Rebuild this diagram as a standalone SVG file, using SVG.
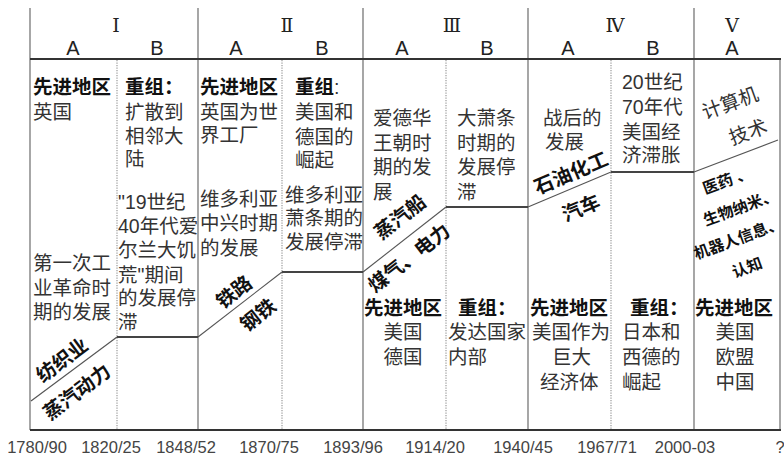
<svg xmlns="http://www.w3.org/2000/svg" width="784" height="456" viewBox="0 0 784 456">
<style>
.t{font-family:"Liberation Sans","Noto Sans CJK SC",sans-serif;font-size:19.5px;fill:#333}
.b{font-family:"Liberation Sans","Noto Sans CJK SC",sans-serif;font-size:19.5px;fill:#111;font-weight:bold}
.s{font-family:"Liberation Sans","Noto Sans CJK SC",sans-serif;font-size:15.5px;fill:#111;font-weight:bold}
.ab{font-family:"Liberation Sans",Arial,sans-serif;font-size:20px;fill:#222;text-anchor:middle}
.rn{font-family:"DejaVu Serif","Liberation Serif",serif;font-size:19px;fill:#222;text-anchor:middle}
.yr{font-family:"Liberation Sans",Arial,sans-serif;font-size:16.5px;fill:#444;text-anchor:middle}
.m{text-anchor:middle}
.major{stroke:#777;stroke-width:1.3;fill:none}
.minor{stroke:#999;stroke-width:1.2;stroke-dasharray:1.2 1.3;fill:none}
.axis{stroke:#333;stroke-width:2.2;fill:none}
.step{stroke:#444;stroke-width:1.8;fill:none}
.diag{stroke:#555;stroke-width:1.1;fill:none}
</style>

<g id="connectors">
  <line class="major" x1="30" y1="8" x2="30" y2="430"/>
  <line class="major" x1="198" y1="8" x2="198" y2="430"/>
  <line class="major" x1="363" y1="8" x2="363" y2="430"/>
  <line class="major" x1="528" y1="8" x2="528" y2="430"/>
  <line class="major" x1="694" y1="8" x2="694" y2="430"/>
  <line class="major" x1="780" y1="59" x2="780" y2="430"/>
  <line class="minor" x1="117" y1="60" x2="117" y2="430"/>
  <line class="minor" x1="282" y1="60" x2="282" y2="430"/>
  <line class="minor" x1="446" y1="60" x2="446" y2="430"/>
  <line class="minor" x1="611" y1="60" x2="611" y2="430"/>
  <line class="axis" x1="30" y1="59" x2="781" y2="59"/>
  <line class="axis" x1="30" y1="430" x2="781" y2="430"/>
  <line class="diag" x1="31" y1="401" x2="117" y2="337"/>
  <line class="step" x1="117" y1="337" x2="198" y2="337"/>
  <line class="diag" x1="198" y1="337" x2="282" y2="272"/>
  <line class="step" x1="282" y1="272" x2="363" y2="272"/>
  <line class="diag" x1="363" y1="272" x2="446" y2="207"/>
  <line class="step" x1="446" y1="207" x2="528" y2="207"/>
  <line class="diag" x1="528" y1="207" x2="611" y2="172"/>
  <line class="step" x1="611" y1="172" x2="694" y2="172"/>
  <line class="diag" x1="694" y1="172" x2="778" y2="140"/>
</g>

<g id="header">
  <text class="rn" x="116" y="32">Ⅰ</text>
  <text class="rn" x="287" y="32">Ⅱ</text>
  <text class="rn" x="452" y="32">Ⅲ</text>
  <text class="rn" x="615" y="32">Ⅳ</text>
  <text class="rn" x="732" y="32">Ⅴ</text>
  <text class="ab" x="73" y="55">A</text>
  <text class="ab" x="157" y="55">B</text>
  <text class="ab" x="236" y="55">A</text>
  <text class="ab" x="322" y="55">B</text>
  <text class="ab" x="402" y="55">A</text>
  <text class="ab" x="487" y="55">B</text>
  <text class="ab" x="568" y="55">A</text>
  <text class="ab" x="653" y="55">B</text>
  <text class="ab" x="732" y="55">A</text>
</g>

<g id="years">
  <text class="yr" x="37" y="453">1780/90</text>
  <text class="yr" x="111" y="453">1820/25</text>
  <text class="yr" x="186" y="453">1848/52</text>
  <text class="yr" x="269" y="453">1870/75</text>
  <text class="yr" x="353" y="453">1893/96</text>
  <text class="yr" x="435" y="453">1914/20</text>
  <text class="yr" x="523" y="453">1940/45</text>
  <text class="yr" x="607" y="453">1967/71</text>
  <text class="yr" x="685" y="453">2000-03</text>
  <text class="yr" x="780" y="453">?</text>
</g>

<g id="p1a">
  <text x="33" y="94"><tspan class="b">先进地区</tspan><tspan class="t" x="33" dy="25">英国</tspan></text>
  <text class="t" x="33" y="270">第一次工<tspan x="33" dy="25">业革命时</tspan><tspan x="33" dy="24">期的发展</tspan></text>
  <text class="b m" transform="translate(62,360) rotate(-37)" y="7">纺织业</text>
  <text class="b m" transform="translate(77,392) rotate(-37)" y="7">蒸汽动力</text>
</g>

<g id="p1b">
  <text x="125" y="94"><tspan class="b">重组：</tspan><tspan class="t" x="125" dy="25">扩散到</tspan><tspan class="t" x="125" dy="24">相邻大</tspan><tspan class="t" x="125" dy="23">陆</tspan></text>
  <text class="t" x="118" y="209">"19世纪<tspan x="118" dy="24">40年代爱</tspan><tspan x="118" dy="24">尔兰大饥</tspan><tspan x="118" dy="25">荒"期间</tspan><tspan x="118" dy="23">的发展停</tspan><tspan x="118" dy="24">滞</tspan></text>
</g>

<g id="p2a">
  <text x="200" y="94"><tspan class="b">先进地区</tspan><tspan class="t" x="200" dy="25">英国为世</tspan><tspan class="t" x="200" dy="23">界工厂</tspan></text>
  <text class="t" x="200" y="206">维多利亚<tspan x="200" dy="24">中兴时期</tspan><tspan x="200" dy="25">的发展</tspan></text>
  <text class="b m" transform="translate(234,292) rotate(-38)" y="7">铁路</text>
  <text class="b m" transform="translate(258,315) rotate(-38)" y="7">钢铁</text>
</g>

<g id="p2b">
  <text x="295" y="94"><tspan class="b">重组</tspan><tspan class="t">:</tspan><tspan class="t" x="295" dy="25">美国和</tspan><tspan class="t" x="295" dy="25">德国的</tspan><tspan class="t" x="295" dy="23">崛起</tspan></text>
  <text class="t" x="285" y="202">维多利亚<tspan x="285" dy="23">萧条期的</tspan><tspan x="285" dy="24">发展停滞</tspan></text>
</g>

<g id="p3a">
  <text class="t" x="373" y="125">爱德华<tspan x="373" dy="25">王朝时</tspan><tspan x="373" dy="24">期的发</tspan><tspan x="373" dy="25">展</tspan></text>
  <text class="b m" transform="translate(400,217) rotate(-38)" y="7">蒸汽船</text>
  <text class="b m" transform="translate(409,258) rotate(-38)" y="7">煤气、电力</text>
  <text x="364" y="315"><tspan class="b">先进地区</tspan><tspan class="t" x="403" dy="24" text-anchor="middle">美国</tspan><tspan class="t" x="403" dy="25" text-anchor="middle">德国</tspan></text>
</g>

<g id="p3b">
  <text class="t" x="457" y="125">大萧条<tspan x="457" dy="25">时期的</tspan><tspan x="457" dy="24">发展停</tspan><tspan x="457" dy="25">滞</tspan></text>
  <text x="458" y="315"><tspan class="b">重组：</tspan><tspan class="t" x="448" dy="24">发达国家</tspan><tspan class="t" x="448" dy="25">内部</tspan></text>
</g>

<g id="p4a">
  <text class="t" x="543" y="125">战后的<tspan x="545" dy="24">发展</tspan></text>
  <text class="b m" transform="translate(571,173) rotate(-23)" y="7">石油化工</text>
  <text class="b m" transform="translate(581,208) rotate(-23)" y="7">汽车</text>
  <text x="530" y="315"><tspan class="b">先进地区</tspan><tspan class="t" x="532" dy="24">美国作为</tspan><tspan class="t" x="552" dy="25">巨大</tspan><tspan class="t" x="540" dy="25">经济体</tspan></text>
</g>

<g id="p4b">
  <text class="t" x="622" y="89">20世纪<tspan x="622" dy="25">70年代</tspan><tspan x="622" dy="25">美国经</tspan><tspan x="622" dy="23">济滞胀</tspan></text>
  <text x="630" y="315"><tspan class="b">重组：</tspan><tspan class="t" x="622" dy="24">日本和</tspan><tspan class="t" x="622" dy="25">西德的</tspan><tspan class="t" x="622" dy="25">崛起</tspan></text>
</g>

<g id="p5a">
  <text class="t m" transform="translate(730,103) rotate(-20)" y="7">计算机</text>
  <text class="t m" transform="translate(748,132) rotate(-20)" y="7">技术</text>
  <text class="s m" transform="translate(727,180) rotate(-20)" y="6">医药 、</text>
  <text class="s m" transform="translate(740,207) rotate(-20)" y="6">生物纳米、</text>
  <text class="s m" transform="translate(738,238) rotate(-20)" y="6">机器人信息、</text>
  <text class="s m" transform="translate(747,267) rotate(-20)" y="6">认知</text>
  <text x="695" y="315"><tspan class="b">先进地区</tspan><tspan class="t" x="735" dy="24" text-anchor="middle">美国</tspan><tspan class="t" x="735" dy="25" text-anchor="middle">欧盟</tspan><tspan class="t" x="735" dy="25" text-anchor="middle">中国</tspan></text>
</g>
</svg>
